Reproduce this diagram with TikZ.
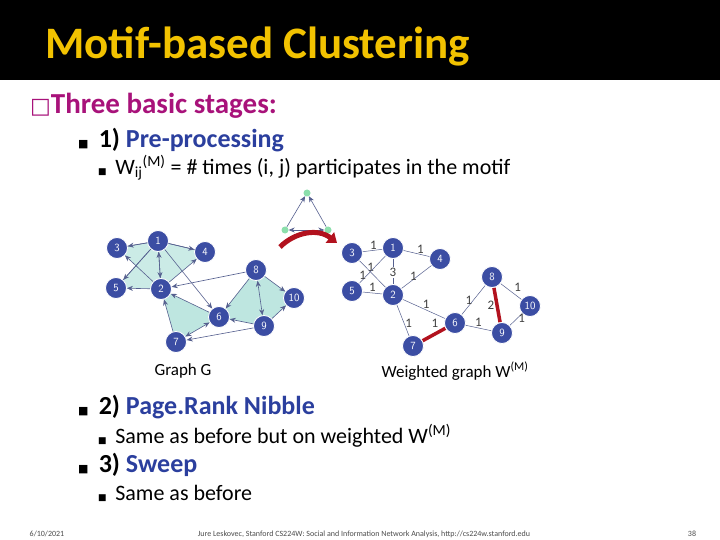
\documentclass[tikz,border=0pt]{standalone}
\usepackage{fontspec}
\setmainfont{Carlito}
\newfontfamily\djv{DejaVu Sans}
\usetikzlibrary{arrows.meta}
\definecolor{nodeblue}{HTML}{3B4DA3}
\definecolor{titleyel}{HTML}{F2C200}
\definecolor{mag}{HTML}{A8127A}
\definecolor{bblue}{HTML}{2B3F9E}
\definecolor{tealf}{HTML}{BEE6E0}
\definecolor{edge}{HTML}{56608F}
\definecolor{wred}{HTML}{B2121E}
\tikzset{
 gn/.style={circle,fill=nodeblue,draw=white,line width=0.8pt,text=white,inner sep=0pt,minimum size=21pt,font=\sffamily\fontsize{11}{11}\selectfont},
 ae/.style={draw=edge,line width=0.6pt,-{Stealth[length=6pt,width=5pt]}},
 be/.style={draw=edge,line width=0.6pt,{Stealth[length=6pt,width=5pt]}-{Stealth[length=6pt,width=5pt]}},
 we/.style={draw=edge,line width=0.5pt},
 re/.style={draw=wred,line width=3.5pt},
 wl/.style={font=\fontsize{13}{13}\selectfont,text=black!75,inner sep=1pt},
 md/.style={circle,fill=teal!55!green!45,inner sep=0pt,minimum size=7pt},
 tx/.style={anchor=west,inner sep=0pt},
 sq/.style={},
}
\begin{document}
\begin{tikzpicture}[x=1pt,y=-1pt]
\useasboundingbox (0,0) rectangle (720,540);
\fill[white] (0,0) rectangle (720,540);
\fill[black] (0,0) rectangle (720,80);
\node[tx,text=titleyel,font=\bfseries\fontsize{45}{45}\selectfont] (title) at (45,46) {Motif-based Clustering};
\node[tx,text=mag,font=\bfseries\fontsize{29}{29}\selectfont] (b1) at (30,106) {{\djv\fontsize{22}{22}\selectfont □}Three basic stages:};
\node[tx,font=\bfseries\fontsize{26}{26}\selectfont] (b2) at (78,140) {{\djv\fontsize{11}{11}\selectfont ■}\, 1) \textcolor{bblue}{Pre-processing}};
\node[tx,font=\fontsize{22}{22}\selectfont] (b3) at (98,168) {{\djv\fontsize{9}{9}\selectfont ■}\, W\textsubscript{ij}\textsuperscript{(M)} = \# times (i, j) participates in the motif};
% motif
\node[md] (ma) at (307,193) {};
\node[md] (mb) at (285,230) {};
\node[md] (mc) at (328,230) {};
\draw[ae] (mb) -- (ma);
\draw[ae] (mc) -- (ma);
\draw[be] (mb) -- (mc);
% left graph
\coordinate (L1) at (158,241); \coordinate (L3) at (117,248); \coordinate (L4) at (205,252);
\coordinate (L5) at (116,288); \coordinate (L2) at (161,289); \coordinate (L8) at (256,270);
\coordinate (L10) at (294,298); \coordinate (L6) at (219,317); \coordinate (L9) at (264,326);
\coordinate (L7) at (176,342);
\fill[tealf,opacity=0.8] (L1)--(L3)--(L2)--cycle (L1)--(L4)--(L2)--cycle (L1)--(L5)--(L2)--cycle;
\fill[tealf] (L2)--(L6)--(L7)--cycle (L8)--(L6)--(L9)--cycle (L8)--(L10)--(L9)--cycle;
\draw[ae] (L1)--(L3); \draw[ae] (L1)--(L4); \draw[be] (L1)--(L2); \draw[ae] (L1)--(L5);
\node[gn] (l1) at (L1) {1}; \node[gn] (l3) at (L3) {3}; \node[gn] (l4) at (L4) {4};
\node[gn] (l5) at (L5) {5}; \node[gn] (l2) at (L2) {2}; \node[gn] (l8) at (L8) {8};
\node[gn] (l10) at (L10) {10}; \node[gn] (l6) at (L6) {6}; \node[gn] (l9) at (L9) {9};
\node[gn] (l7) at (L7) {7};
\draw[ae] (l1)--(l3); \draw[ae] (l1)--(l4); \draw[be] (l1)--(l2); \draw[ae] (l1)--(l5);
\draw[ae] (l1)--(l6); \draw[ae] (l2)--(l3); \draw[ae] (l2)--(l4); \draw[ae] (l2)--(l5);
\draw[ae] (l8)--(l2); \draw[ae] (l6)--(l2); \draw[ae] (l7)--(l2); \draw[ae] (l8)--(l6);
\draw[be] (l8)--(l9); \draw[ae] (l8)--(l10); \draw[ae] (l9)--(l10); \draw[ae] (l9)--(l6);
\draw[be] (l6)--(l7); \draw[ae] (l9)--(l7);
% arrow
\coordinate (as) at (280,247);
\coordinate (ae) at (337,243);
\draw[wred,line width=5pt,-{Triangle[length=9pt,width=13pt]}] (as) .. controls (295,232) and (318,228) .. (ae);
% right graph
\node[gn] (r1) at (393,248) {1}; \node[gn] (r3) at (352,253) {3}; \node[gn] (r4) at (440,259) {4};
\node[gn] (r5) at (352,291) {5}; \node[gn] (r2) at (393,295) {2}; \node[gn] (r8) at (492,277) {8};
\node[gn] (r10) at (530,306) {10}; \node[gn] (r6) at (455,323) {6}; \node[gn] (r9) at (502,333) {9};
\node[gn] (r7) at (413,346) {7};
\draw[we] (r3)--node[wl,above,pos=.55]{1}(r1);
\draw[we] (r3)--node[wl,pos=.25,right]{1}(r2);
\draw[we] (r1)--node[wl,pos=.7,left]{1}(r5);
\draw[we] (r1)--node[wl,pos=.55,fill=white]{3}(r2);
\draw[we] (r1)--node[wl,above,pos=.65]{1}(r4);
\draw[we] (r2)--node[wl,pos=.55,left]{1}(r4);
\draw[we] (r5)--node[wl,pos=.5,above]{1}(r2);
\draw[we] (r2)--node[wl,pos=.55,above]{1}(r6);
\draw[we] (r2)--node[wl,pos=.6,right]{1}(r7);
\draw[re] (r7)--node[wl,pos=.8,above left]{1}(r6);
\draw[we] (r6)--node[wl,pos=.5,left]{1}(r8);
\draw[we] (r6)--node[wl,pos=.5,above]{1}(r9);
\draw[re] (r8)--node[wl,pos=.5,left]{2}(r9);
\draw[we] (r8)--node[wl,pos=.6,above right]{1}(r10);
\draw[we] (r9)--node[wl,pos=.6,right]{1}(r10);
\node[gn] at (r7) {7}; \node[gn] at (r6) {6}; \node[gn] at (r8) {8}; \node[gn] at (r9) {9};
\node[font=\fontsize{17}{17}\selectfont] (cg) at (183,371) {Graph G};
\node[font=\fontsize{17}{17}\selectfont] (cw) at (455,371) {Weighted graph W\textsuperscript{(M)}};
\node[tx,font=\bfseries\fontsize{26}{26}\selectfont] (b4) at (78,407) {{\djv\fontsize{11}{11}\selectfont ■}\, 2) \textcolor{bblue}{Page.Rank Nibble}};
\node[tx,font=\fontsize{22}{22}\selectfont] (b5) at (98,436) {{\djv\fontsize{9}{9}\selectfont ■}\, Same as before but on weighted W\textsuperscript{(M)}};
\node[tx,font=\bfseries\fontsize{26}{26}\selectfont] (b6) at (78,465) {{\djv\fontsize{11}{11}\selectfont ■}\, 3) \textcolor{bblue}{Sweep}};
\node[tx,font=\fontsize{22}{22}\selectfont] (b7) at (98,493) {{\djv\fontsize{9}{9}\selectfont ■}\, Same as before};
\node[font=\fontsize{8}{8}\selectfont,text=black!70] (f1) at (47,534) {6/10/2021};
\node[font=\fontsize{8}{8}\selectfont,text=black!70] (f2) at (364,534) {Jure Leskovec, Stanford CS224W: Social and Information Network Analysis, http://cs224w.stanford.edu};
\node[font=\fontsize{8}{8}\selectfont,text=black!70] (f3) at (692,534) {38};
\end{tikzpicture}
\end{document}
